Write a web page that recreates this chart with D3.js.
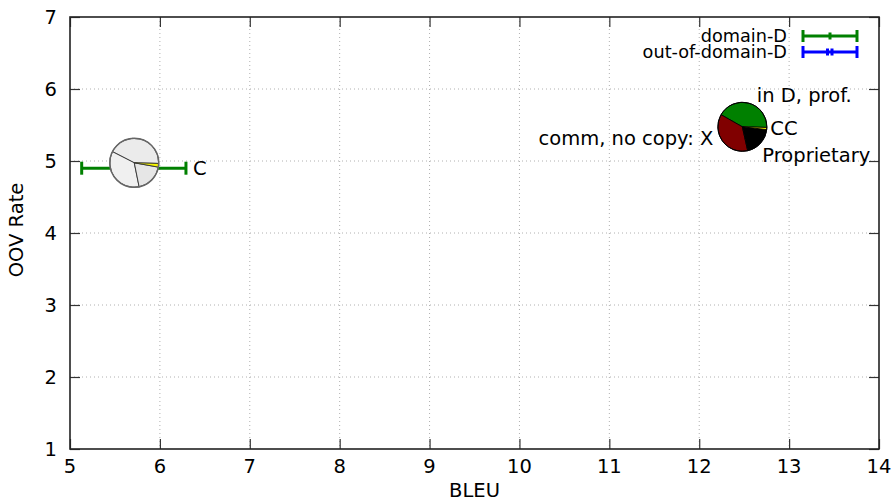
<!DOCTYPE html>
<html><head><meta charset="utf-8">
<script src="https://cdn.jsdelivr.net/npm/d3@7"></script>
<style>
body{margin:0;background:#fff;}
text{font-family:"DejaVu Sans",sans-serif;fill:#000;}
</style></head>
<body><svg id="c" width="891" height="501"></svg>
<script>
// ---- data ----
const xTicks = [5,6,7,8,9,10,11,12,13,14];
const yTicks = [1,2,3,4,5,6,7];
const sliceNames = ["in D, prof.", "comm, no copy: X", "Proprietary", "CC"];
const pieColorsMain = ["#008000", "#800000", "#000000", "#ffff00"];
const pieColorsC = ["#ebebeb", "#f0f0f0", "#e6e6e6", "#f2f200"];
const pieC = {x: 5.715, y: 4.975, values: [42.9, 35.7, 19.0, 2.4]};
const pieD = {x: 12.48, y: 5.475, values: [42.2, 36.7, 19.7, 1.4]};
const errC = {label: "C", y: 4.90, lo: 5.13, hi: 6.29};
const legendItems = ["domain-D", "out-of-domain-D"];
const legendColors = ["#008000", "#0000ff"];

// ---- layout ----
const svg = d3.select("#c");
const L = 70, R = 879, T = 17, B = 449;
const x = d3.scaleLinear().domain([5,14]).range([L,R]);
const y = d3.scaleLinear().domain([1,7]).range([B,T]);
const fs = "19.5px";

// grid
const g = svg.append("g");
g.selectAll(".gx").data(xTicks.slice(1,-1)).join("line")
  .attr("x1",d=>x(d)).attr("x2",d=>x(d)).attr("y1",T).attr("y2",B)
  .attr("stroke","#b0b0b0").attr("stroke-width",1).attr("stroke-dasharray","1,3");
g.selectAll(".gy").data(yTicks.slice(1,-1)).join("line")
  .attr("y1",d=>y(d)).attr("y2",d=>y(d)).attr("x1",L).attr("x2",R)
  .attr("stroke","#b0b0b0").attr("stroke-width",1).attr("stroke-dasharray","1,3");

// axes (inward ticks, mirrored)
const tl = 10;
const axB = d3.axisTop(x).tickValues(xTicks).tickSize(tl).tickFormat("");
const axT = d3.axisBottom(x).tickValues(xTicks).tickSize(tl).tickFormat("");
const axL = d3.axisRight(y).tickValues(yTicks).tickSize(tl).tickFormat("");
const axR = d3.axisLeft(y).tickValues(yTicks).tickSize(tl).tickFormat("");
[[axB,`translate(0,${B})`],[axT,`translate(0,${T})`],[axL,`translate(${L},0)`],[axR,`translate(${R},0)`]]
  .forEach(([a,t])=>{
    const gg = svg.append("g").attr("transform",t).call(a);
    gg.select(".domain").remove();
    gg.selectAll("line").attr("stroke","#333").attr("stroke-width",1.2);
  });
svg.append("rect").attr("x",L).attr("y",T).attr("width",R-L).attr("height",B-T)
  .attr("fill","none").attr("stroke","#222").attr("stroke-width",1.6);

// tick labels
svg.selectAll(".xl").data(xTicks).join("text")
  .attr("x",d=>x(d)).attr("y",B+24).attr("text-anchor","middle")
  .style("font-size",fs).text(d=>d);
svg.selectAll(".yl").data(yTicks).join("text")
  .attr("x",L-13).attr("y",d=>y(d)+7).attr("text-anchor","end")
  .style("font-size",fs).text(d=>d);
svg.append("text").attr("x",(L+R)/2).attr("y",497).attr("text-anchor","middle")
  .style("font-size",fs).text("BLEU");
svg.append("text").attr("transform",`translate(23,230) rotate(-90)`)
  .attr("text-anchor","middle").style("font-size",fs).text("OOV Rate");

// error bar helper
function errBar(sel, x0, x1, yy, color, capH, mid){
  const gg = sel.append("g").attr("stroke",color).attr("stroke-width",3).attr("fill","none");
  gg.append("line").attr("x1",x0).attr("x2",x1).attr("y1",yy).attr("y2",yy);
  gg.append("line").attr("x1",x0).attr("x2",x0).attr("y1",yy-capH/2).attr("y2",yy+capH/2);
  gg.append("line").attr("x1",x1).attr("x2",x1).attr("y1",yy-capH/2).attr("y2",yy+capH/2);
  if(mid) mid(gg);
  return gg;
}

// C error bar
errBar(svg, x(errC.lo), x(errC.hi), y(errC.y), legendColors[0], 13);
svg.append("text").attr("x",x(errC.hi)+7).attr("y",y(errC.y)+7)
  .style("font-size",fs).text(errC.label);

// pies
const r = 24.5;
const a0 = (91.5)*Math.PI/180;
const pie = d3.pie().sort(null).startAngle(a0).endAngle(a0-2*Math.PI);
const arc = d3.arc().innerRadius(0).outerRadius(r);

function drawPie(p, colors, stroke, outline, ow){
  const gg = svg.append("g").attr("transform",`translate(${x(p.x)},${y(p.y)})`);
  gg.selectAll("path").data(pie(p.values)).join("path")
    .attr("d",arc).attr("fill",(d,i)=>colors[i])
    .attr("stroke",stroke).attr("stroke-width",0.9).attr("stroke-linejoin","round");
  gg.append("circle").attr("r",r).attr("fill","none").attr("stroke",outline).attr("stroke-width",ow);
  return gg;
}
drawPie(pieC, pieColorsC, "#333", "#666", 1.5);
drawPie(pieD, pieColorsMain, "#000", "#000", 1);

// pie labels
const px = x(pieD.x), py = y(pieD.y);
const lab = svg.append("g").style("font-size",fs);
lab.append("text").attr("x",px+14.5).attr("y",py-25).text(sliceNames[0]);
lab.append("text").attr("x",px-29).attr("y",py+18).attr("text-anchor","end").text(sliceNames[1]);
lab.append("text").attr("x",px+20).attr("y",py+35).text(sliceNames[2]);
lab.append("text").attr("x",px+28).attr("y",py+8.5).text(sliceNames[3]);

// legend
const lx0 = 803, lx1 = 857, lys = [36, 52];
legendItems.forEach((name,i)=>{
  svg.append("text").attr("x",787).attr("y",lys[i]+6).attr("text-anchor","end")
    .style("font-size","17.7px").text(name);
  errBar(svg, lx0, lx1, lys[i], legendColors[i], 12, gg=>{
    const mx = (lx0+lx1)/2;
    if(i===0){
      gg.append("line").attr("x1",mx).attr("x2",mx).attr("y1",lys[i]-3.5).attr("y2",lys[i]+3.5);
    } else {
      gg.append("line").attr("x1",mx-2.5).attr("x2",mx-2.5).attr("y1",lys[i]-3.5).attr("y2",lys[i]+3.5);
      gg.append("line").attr("x1",mx+2).attr("x2",mx+2).attr("y1",lys[i]-3.5).attr("y2",lys[i]+3.5);
    }
  });
});
</script></body></html>
